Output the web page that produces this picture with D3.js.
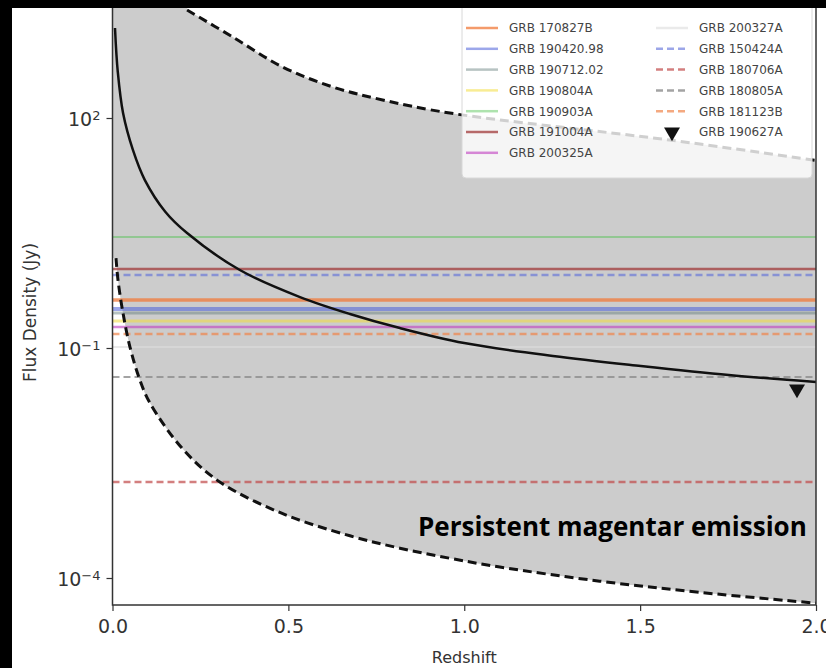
<!DOCTYPE html>
<html>
<head>
<meta charset="utf-8">
<script src="https://cdn.jsdelivr.net/npm/d3@7"></script>
<style>
  body { margin: 0; background: #000; }
  svg { display: block; }
</style>
</head>
<body>
<svg id="chart"></svg>
<script>
// horizontal GRB flux levels (Jy)
const lineNames = ["GRB 170827B", "GRB 190420.98", "GRB 190712.02", "GRB 190804A", "GRB 190903A",
                   "GRB 191004A", "GRB 200325A", "GRB 200327A", "GRB 150424A", "GRB 180706A",
                   "GRB 180805A", "GRB 181123B"];
const lineFlux = [0.423, 0.323, 0.286, 0.225, 2.81, 1.07, 0.188, 0.103, 0.895, 0.00179, 0.0419, 0.152];

// upper limit marker
const limitName = "GRB 190627A";
const limitZ = 1.946;
const limitFlux = 0.0292;

// magnetar model curve (solid)
const modelZ = [0.0071, 0.015, 0.03, 0.058, 0.092, 0.15, 0.212, 0.362, 0.533, 0.675, 0.817, 1.0, 1.252, 1.502, 1.752, 2.0];
const modelFlux = [1493, 400, 116, 38.3, 15.5, 6.0, 3.16, 1.04, 0.462, 0.278, 0.182, 0.116, 0.0787, 0.0582, 0.0444, 0.0361];

// envelope, lower dashed bound
const lowZ = [0.0099, 0.0156, 0.0298, 0.0497, 0.078, 0.107, 0.2, 0.305, 0.484, 0.675, 0.817, 0.959, 1.101, 1.385, 1.669, 2.0];
const lowFlux = [1.49, 0.77, 0.286, 0.103, 0.0381, 0.019, 0.0048, 0.00179, 6.9e-4, 3.55e-4, 2.45e-4, 1.81e-4, 1.39e-4, 9.1e-5, 6.5e-5, 4.7e-5];

// envelope, upper dashed bound
const highZ = [0.212, 0.342, 0.484, 0.626, 0.768, 0.959, 1.584, 2.0];
const highFlux = [2565, 1137, 462, 254, 172, 116, 51.6, 28];

const xTicks = [0, 0.5, 1.0, 1.5, 2.0];
const yTicks = [1e2, 1e-1, 1e-4];
const yTickExp = ["2", "\u22121", "\u22124"];

const lineStyle = {
  "GRB 170827B":   { color: "#f07a3a", dash: null, width: 3.5, op: 0.75 },
  "GRB 190420.98": { color: "#4a5ed8", dash: null, width: 4, op: 0.55 },
  "GRB 190712.02": { color: "#607a78", dash: null, width: 3, op: 0.45 },
  "GRB 190804A":   { color: "#f2dc3c", dash: null, width: 3, op: 0.55 },
  "GRB 190903A":   { color: "#4cc24c", dash: null, width: 2, op: 0.45 },
  "GRB 191004A":   { color: "#a03a3a", dash: null, width: 2.5, op: 0.75 },
  "GRB 200325A":   { color: "#c03cc0", dash: null, width: 2.5, op: 0.6 },
  "GRB 200327A":   { color: "#dcdcdc", dash: null, width: 2, op: 0.6 },
  "GRB 150424A":   { color: "#5a6ad8", dash: "7,4", width: 2.5, op: 0.6 },
  "GRB 180706A":   { color: "#c04848", dash: "7,4", width: 2.5, op: 0.7 },
  "GRB 180805A":   { color: "#8c8c8c", dash: "7,4", width: 2, op: 0.8 },
  "GRB 181123B":   { color: "#f0844a", dash: "7,4", width: 2.5, op: 0.7 }
};

const W = 826, H = 668;
const plotL = 112.5, plotR = 816, plotT = 8, plotB = 605;

const svg = d3.select("#chart").attr("width", W).attr("height", H);
svg.append("rect").attr("width", W).attr("height", H).attr("fill", "#000");
svg.append("rect").attr("x", 12).attr("y", 8).attr("width", W - 12).attr("height", H - 8).attr("fill", "#fff");

const x = d3.scaleLinear().domain([0, 2]).range([plotL, plotR]);
const y = d3.scaleLog().domain([1e-4, 1e2]).range([578, 118]);

svg.append("clipPath").attr("id", "clip")
  .append("rect").attr("x", plotL).attr("y", plotT).attr("width", plotR - plotL).attr("height", plotB - plotT);

const plot = svg.append("g").attr("clip-path", "url(#clip)");

const curveLine = d3.line().curve(d3.curveCatmullRom.alpha(0.5));
const lowPath = curveLine(lowZ.map((z, i) => [x(z), y(lowFlux[i])]));
const highPath = curveLine(highZ.map((z, i) => [x(z), y(highFlux[i])]));

// shaded envelope: grey everywhere, white outside the two bounds
plot.append("rect").attr("x", plotL).attr("y", plotT).attr("width", plotR - plotL).attr("height", plotB - plotT)
  .attr("fill", "#cccccc");
plot.append("path")
  .attr("d", "M" + x(highZ[0]) + "," + (plotT - 20) + "L" + highPath.slice(1)
        + "L" + (plotR + 10) + "," + (plotT - 20) + "Z")
  .attr("fill", "#fff");
plot.append("path")
  .attr("d", "M" + plotL + "," + (plotB + 20) + "L" + plotL + "," + y(lowFlux[0]) + "L" + lowPath.slice(1)
        + "L" + (plotR + 10) + "," + (plotB + 20) + "Z")
  .attr("fill", "#fff");

// GRB horizontal lines
lineNames.forEach((name, i) => {
  const s = lineStyle[name];
  plot.append("line")
    .attr("x1", plotL).attr("x2", plotR)
    .attr("y1", y(lineFlux[i])).attr("y2", y(lineFlux[i]))
    .attr("stroke", s.color).attr("stroke-width", s.width).attr("stroke-opacity", s.op)
    .attr("stroke-dasharray", s.dash);
});

// envelope bounds
[lowPath, highPath].forEach(p => {
  plot.append("path").attr("d", p).attr("fill", "none")
    .attr("stroke", "#111").attr("stroke-width", 3).attr("stroke-dasharray", "9,5");
});

// model curve
plot.append("path")
  .attr("d", curveLine(modelZ.map((z, i) => [x(z), y(modelFlux[i])])))
  .attr("fill", "none").attr("stroke", "#111").attr("stroke-width", 2.5);

// upper limit
plot.append("path")
  .attr("d", d3.symbol().type(d3.symbolTriangle).size(110))
  .attr("transform", `translate(${x(limitZ)},${y(limitFlux)}) rotate(180)`)
  .attr("fill", "#111");

// annotation
svg.append("text")
  .attr("x", 418).attr("y", 536)
  .attr("font-family", "'Open Sans', sans-serif").attr("font-weight", "bold")
  .attr("font-size", 26).attr("fill", "#000")
  .text("Persistent magentar emission");

// legend
const legend = svg.append("g");
legend.append("rect")
  .attr("x", 462).attr("y", 0).attr("width", 350).attr("height", 178).attr("rx", 4)
  .attr("fill", "#fff").attr("fill-opacity", 0.8).attr("stroke", "#d8d8d8");
const col1 = lineNames.slice(0, 7);
const col2 = lineNames.slice(7).concat([limitName]);
const rowY = i => 28 + i * 20.8;
[[col1, 466], [col2, 656]].forEach(([names, hx]) => {
  names.forEach((name, i) => {
    const s = lineStyle[name];
    if (s) {
      legend.append("line")
        .attr("x1", hx).attr("x2", hx + 32).attr("y1", rowY(i)).attr("y2", rowY(i))
        .attr("stroke", s.color).attr("stroke-width", 2.5)
        .attr("stroke-opacity", s.op).attr("stroke-dasharray", s.dash);
    } else {
      legend.append("path")
        .attr("d", d3.symbol().type(d3.symbolTriangle).size(110))
        .attr("transform", `translate(${hx + 16},${rowY(i)}) rotate(180)`)
        .attr("fill", "#111");
    }
    legend.append("text")
      .attr("x", hx + 43).attr("y", rowY(i)).attr("dy", "0.36em")
      .attr("font-family", "'DejaVu Sans', sans-serif").attr("font-size", 12).attr("fill", "#444")
      .text(name);
  });
});

// spines
svg.append("rect")
  .attr("x", plotL).attr("y", plotT - 5).attr("width", plotR - plotL).attr("height", plotB - plotT + 5)
  .attr("fill", "none").attr("stroke", "#333").attr("stroke-width", 1.5);

// axes
const xAxis = svg.append("g").attr("transform", `translate(0,${plotB})`)
  .call(d3.axisBottom(x).tickValues(xTicks).tickSize(6).tickFormat(d3.format(".1f")));
xAxis.select(".domain").remove();
xAxis.selectAll("line").attr("stroke", "#333").attr("stroke-width", 1.2);
xAxis.selectAll("text").attr("font-family", "'DejaVu Sans', sans-serif").attr("font-size", 19)
  .attr("fill", "#333").attr("dy", "1.0em");

const yAxis = svg.append("g").attr("transform", `translate(${plotL},0)`)
  .call(d3.axisLeft(y).tickValues(yTicks).tickSize(6).tickFormat(""));
yAxis.select(".domain").remove();
yAxis.selectAll("line").attr("stroke", "#333").attr("stroke-width", 1.2);
yAxis.selectAll(".tick").each(function(d, i) {
  const t = d3.select(this).append("text")
    .attr("x", -12).attr("dy", "0.4em").attr("text-anchor", "end")
    .attr("font-family", "'DejaVu Sans', sans-serif").attr("font-size", 19).attr("fill", "#333");
  t.append("tspan").text("10");
  t.append("tspan").attr("dy", "-0.45em").attr("font-size", 13).text(yTickExp[i]);
});

svg.append("text")
  .attr("x", (plotL + plotR) / 2).attr("y", 663).attr("text-anchor", "middle")
  .attr("font-family", "'DejaVu Sans', sans-serif").attr("font-size", 16).attr("fill", "#333")
  .text("Redshift");

svg.append("text")
  .attr("transform", `translate(36,${(plotT + plotB) / 2 + 6}) rotate(-90)`).attr("text-anchor", "middle")
  .attr("font-family", "'DejaVu Sans', sans-serif").attr("font-size", 17).attr("fill", "#333")
  .text("Flux Density (Jy)");

// black band at the top edge
svg.append("rect").attr("width", W).attr("height", 8).attr("fill", "#000");
</script>
</body>
</html>
